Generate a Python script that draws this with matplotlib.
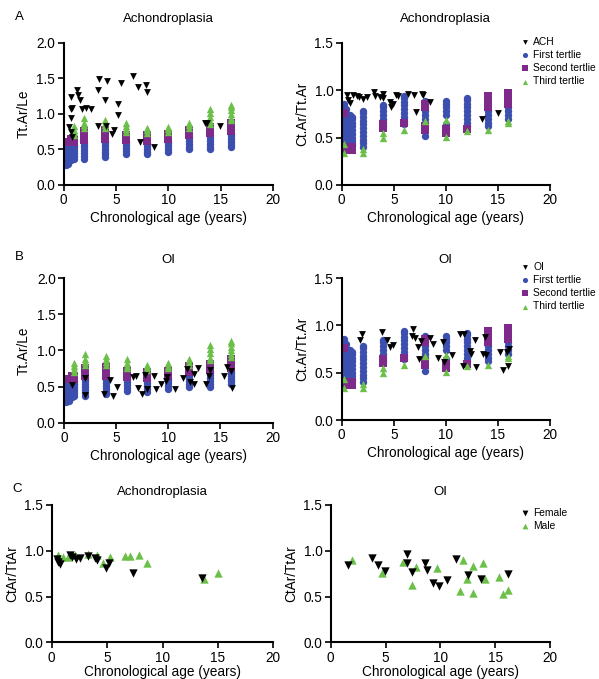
import matplotlib
matplotlib.use("Agg")
from matplotlib import pyplot as plt

plt.rcParams['font.family'] = ['Liberation Sans', 'DejaVu Sans']

# ---- reference tertiles, Tt.Ar/Le (same in A and B, left) ----
tt_ages = [0.2, 0.45, 0.75, 1.0, 2, 4, 6, 8, 10, 12, 14, 16]
tt_first = [
    [0.28, 0.32, 0.36, 0.40, 0.44, 0.48, 0.52, 0.56],
    [0.30, 0.34, 0.38, 0.42, 0.46, 0.50, 0.54, 0.58],
    [0.35, 0.39, 0.43, 0.47, 0.51, 0.55, 0.59],
    [0.37, 0.41, 0.45, 0.49, 0.53, 0.57],
    [0.37, 0.41, 0.45, 0.49, 0.53, 0.57, 0.60],
    [0.39, 0.43, 0.47, 0.51, 0.55, 0.59, 0.62],
    [0.44, 0.48, 0.52, 0.56, 0.60],
    [0.43, 0.47, 0.51, 0.55, 0.59],
    [0.47, 0.51, 0.55, 0.59, 0.62],
    [0.50, 0.54, 0.58, 0.62, 0.66],
    [0.50, 0.54, 0.58, 0.62, 0.66, 0.70],
    [0.53, 0.57, 0.61, 0.65, 0.69, 0.72],
]
tt_second = [
    [0.60], [0.61], [0.62, 0.65], [0.60, 0.64],
    [0.64, 0.68, 0.72, 0.76],
    [0.65, 0.69, 0.73, 0.77],
    [0.63, 0.67, 0.71],
    [0.62, 0.66, 0.70],
    [0.65, 0.69, 0.72],
    [0.70, 0.74, 0.78],
    [0.73, 0.77, 0.81],
    [0.76, 0.80, 0.84, 0.88],
]
tt_third = [
    [], [], [], [0.70, 0.74, 0.78, 0.83],
    [0.80, 0.84, 0.88, 0.95],
    [0.80, 0.84, 0.88, 0.92],
    [0.75, 0.79, 0.83, 0.88],
    [0.73, 0.77, 0.80],
    [0.75, 0.79, 0.82],
    [0.80, 0.84, 0.88],
    [0.86, 0.90, 0.96, 1.02, 1.07],
    [0.91, 0.95, 1.00, 1.05, 1.10, 1.13],
]

# ---- reference tertiles, Ct.Ar/Tt.Ar (same in A and B, right) ----
ct_ages = [0.2, 0.45, 0.75, 1.0, 2, 4, 6, 8, 10, 12, 14, 16]
ct_first = [
    [0.46, 0.50, 0.54, 0.58, 0.62, 0.66, 0.70, 0.74, 0.78, 0.82, 0.86],
    [0.44, 0.48, 0.52, 0.56, 0.60, 0.64, 0.68, 0.72, 0.76, 0.80],
    [0.42, 0.46, 0.50, 0.54, 0.58, 0.62, 0.66, 0.70, 0.74],
    [0.42, 0.46, 0.50, 0.54, 0.58, 0.62, 0.66, 0.70, 0.72],
    [0.40, 0.44, 0.48, 0.52, 0.56, 0.60, 0.64, 0.68, 0.72, 0.76, 0.78],
    [0.62, 0.66, 0.70, 0.74, 0.78, 0.82, 0.85],
    [0.64, 0.68, 0.72, 0.76, 0.80, 0.84, 0.88, 0.92, 0.94],
    [0.52, 0.66, 0.70, 0.74, 0.78, 0.82, 0.86, 0.89],
    [0.60, 0.64, 0.74, 0.78, 0.82, 0.86, 0.89],
    [0.62, 0.66, 0.70, 0.74, 0.78, 0.82, 0.86, 0.90, 0.92],
    [0.62, 0.66, 0.70, 0.74, 0.78],
    [0.70, 0.74, 0.78, 0.82],
]
ct_second = [
    [0.40, 0.76], [0.38], [0.37, 0.40], [0.37, 0.40], [],
    [0.60, 0.64], [0.66], [0.58, 0.62, 0.82, 0.86], [0.55, 0.59], [0.59],
    [0.82, 0.86, 0.90, 0.94], [0.86, 0.90, 0.94, 0.97],
]
ct_third = [
    [0.34, 0.43], [], [], [], [0.34, 0.38],
    [0.50, 0.55], [0.58], [0.68], [0.51, 0.69], [0.57], [0.58], [0.65, 0.68],
]

# ---- ACH patients ----
ach_age_le = [0.67, 0.83, 0.76, 0.76, 0.51, 0.83, 0.67, 1.3, 1.37, 1.62, 1.78, 2.19, 2.63,
              3.3, 3.3, 3.37, 4.16, 3.94, 4.1, 4.63, 4.86, 5.17, 5.2, 5.52, 6.63, 7.08,
              7.87, 7.97, 7.27, 8.6, 13.5, 13.7, 14.95]
ach_le = [1.235, 1.09, 1.07, 0.94, 0.82, 0.68, 0.75, 1.34, 1.27, 1.2, 1.07, 1.09, 1.07,
          0.835, 1.34, 1.49, 1.46, 1.2, 0.83, 0.72, 0.77, 1.14, 0.99, 1.44, 1.54, 1.38,
          1.41, 1.31, 0.61, 0.54, 0.87, 0.88, 0.83]
ach_age_ct = [0.48, 0.64, 0.8, 1.12, 1.44, 1.66, 2.0, 2.4, 3.1, 3.2, 3.7, 3.94, 4.0, 4.6,
              4.7, 4.96, 5.2, 5.44, 6.4, 6.95, 7.15, 7.75, 7.85, 8.5, 13.5, 15.0]
ach_ct = [0.953, 0.9, 0.865, 0.953, 0.94, 0.925, 0.91, 0.93, 0.98, 0.935, 0.925, 0.96,
          0.92, 0.875, 0.82, 0.86, 0.95, 0.94, 0.96, 0.95, 0.77, 0.96, 0.955, 0.88, 0.7, 0.76]

# ---- OI patients ----
oi_age_le = [0.81, 2.0, 2.0, 3.86, 4.4, 4.73, 5.05, 6.65, 6.9, 7.08, 7.46, 7.78, 7.94,
             8.68, 8.84, 9.32, 9.77, 9.87, 10.67, 11.4, 11.8, 12.05, 12.44, 12.5, 12.9,
             13.6, 13.9, 13.98, 15.33, 15.66, 16.05, 16.14]
oi_le = [0.52, 0.38, 0.62, 0.39, 0.59, 0.37, 0.50, 0.63, 0.65, 0.48, 0.40, 0.66, 0.47,
         0.65, 0.47, 0.54, 0.57, 0.63, 0.47, 0.62, 0.74, 0.56, 0.67, 0.54, 0.76,
         0.54, 0.65, 0.73, 0.65, 0.77, 0.72, 0.48]
oi_age_ct = [1.76, 1.92, 3.84, 4.38, 4.64, 4.96, 6.88, 6.72, 7.04, 7.36, 7.46, 7.58, 8.48,
             8.74, 9.28, 9.7, 9.82, 10.56, 11.36, 11.74, 11.68, 12.32, 12.38, 12.86, 12.8,
             13.76, 13.54, 13.82, 15.2, 15.52, 16.0, 16.06, 15.84]
oi_ct = [0.84, 0.91, 0.93, 0.84, 0.77, 0.79, 0.96, 0.885, 0.87, 0.77, 0.64, 0.835, 0.87,
         0.80, 0.66, 0.825, 0.615, 0.685, 0.91, 0.905, 0.57, 0.73, 0.695, 0.555, 0.84,
         0.88, 0.695, 0.685, 0.72, 0.527, 0.57, 0.755, 0.72]

# ---- panel C, by sex ----
ach_f_age = [0.45, 0.6, 0.75, 1.65, 1.8, 2.2, 2.55, 3.25, 3.9, 4.06, 4.9, 5.2, 7.37, 13.53]
ach_f = [0.91, 0.875, 0.855, 0.955, 0.93, 0.905, 0.92, 0.94, 0.925, 0.9, 0.815, 0.865, 0.76, 0.70]
ach_m_age = [0.6, 1.05, 1.5, 2.1, 3.3, 4.12, 4.66, 5.26, 6.6, 7.07, 7.9, 8.57, 13.74, 15.04]
ach_m = [0.955, 0.935, 0.935, 0.955, 0.97, 0.955, 0.865, 0.93, 0.945, 0.94, 0.955, 0.87, 0.69, 0.755]
oi_f_age = [1.61, 3.74, 4.35, 4.95, 6.93, 6.93, 7.39, 8.6, 8.75, 9.36, 9.88, 10.58, 11.43,
            12.55, 13.7, 16.2]
oi_f = [0.845, 0.92, 0.845, 0.78, 0.965, 0.87, 0.77, 0.865, 0.79, 0.65, 0.615, 0.68, 0.91,
        0.735, 0.69, 0.745]
oi_m_age = [1.91, 4.65, 6.63, 7.45, 7.75, 9.73, 12.04, 11.8, 12.4, 12.95, 12.95, 13.92,
            14.07, 15.35, 15.68, 16.2]
oi_m = [0.9, 0.755, 0.875, 0.625, 0.825, 0.815, 0.9, 0.56, 0.69, 0.835, 0.54, 0.87, 0.69,
        0.71, 0.525, 0.57]

BLUE = '#3d4fae'
PURPLE = '#7d2a8a'
GREEN = '#6cc04a'
FS = 9.8
TFS = 9.5

W, H = 599, 679
fig = plt.figure(figsize=(W / 100, H / 100), dpi=100)


def box(x0, x1, ytop, ybot):
    return [x0 / W, 1 - ybot / H, (x1 - x0) / W, (ybot - ytop) / H]


def style(ax, ymax, ylabel, xpad=3):
    for s in ['top', 'right']:
        ax.spines[s].set_visible(False)
    for s in ['left', 'bottom']:
        ax.spines[s].set_linewidth(1.5)
    ax.set_xlim(0, 20)
    ax.set_ylim(0, ymax)
    ax.set_xticks([0, 5, 10, 15, 20])
    ax.set_yticks([i * 0.5 for i in range(int(ymax / 0.5) + 1)])
    ax.yaxis.set_major_formatter(matplotlib.ticker.FormatStrFormatter('%.1f'))
    ax.tick_params(labelsize=FS, width=1.2, length=4, pad=2)
    ax.set_xlabel('Chronological age (years)', fontsize=FS, labelpad=xpad)
    ax.set_ylabel(ylabel, fontsize=FS, labelpad=4)


def tertiles(ax, ages, first, second, third):
    for lst, col, mk, lab in [(first, BLUE, 'o', 'First tertlie'),
                              (second, PURPLE, 's', 'Second tertlie'),
                              (third, GREEN, '^', 'Third tertlie')]:
        xs, ys = [], []
        for a, vals in zip(ages, lst):
            xs += [a] * len(vals)
            ys += vals
        ax.scatter(xs, ys, s=28, marker=mk, color=col, linewidths=0, label=lab, zorder=2)


def legend(ax, ytop):
    ax.legend(loc='upper left', bbox_to_anchor=(522 / W, 1 - ytop / H),
              bbox_transform=fig.transFigure, frameon=False, fontsize=7.4,
              handlelength=0.6, handletextpad=0.5, labelspacing=0.3,
              borderpad=0, borderaxespad=0, markerscale=0.7)


# A left
ax = fig.add_axes(box(63.5, 273, 43, 185))
ax.scatter(ach_age_le, ach_le, s=24, marker='v', color='black', linewidths=0, zorder=3)
tertiles(ax, tt_ages, tt_first, tt_second, tt_third)
style(ax, 2.0, 'Tt.Ar/Le')
ax.set_title('Achondroplasia', fontsize=TFS, pad=15)

# A right
ax = fig.add_axes(box(341.7, 550, 43, 185))
ax.scatter(ach_age_ct, ach_ct, s=24, marker='v', color='black', linewidths=0, zorder=3, label='ACH')
tertiles(ax, ct_ages, ct_first, ct_second, ct_third)
style(ax, 1.5, 'Ct.Ar/Tt.Ar')
ax.set_title('Achondroplasia', fontsize=TFS, pad=15)
legend(ax, 37)

# B left
ax = fig.add_axes(box(64, 272.5, 278, 422.7))
ax.scatter(oi_age_le, oi_le, s=24, marker='v', color='black', linewidths=0, zorder=3)
tertiles(ax, tt_ages, tt_first, tt_second, tt_third)
style(ax, 2.0, 'Tt.Ar/Le')
ax.set_title('OI', fontsize=TFS, pad=11)

# B right
ax = fig.add_axes(box(341.7, 550, 278, 420))
ax.scatter(oi_age_ct, oi_ct, s=24, marker='v', color='black', linewidths=0, zorder=3, label='OI')
tertiles(ax, ct_ages, ct_first, ct_second, ct_third)
style(ax, 1.5, 'Ct.Ar/Tt.Ar')
ax.set_title('OI', fontsize=TFS, pad=11)
legend(ax, 262)

# C left
ax = fig.add_axes(box(51.7, 273.3, 505, 642.3))
ax.scatter(ach_f_age, ach_f, s=36, marker='v', color='black', linewidths=0, zorder=3)
ax.scatter(ach_m_age, ach_m, s=36, marker='^', color=GREEN, linewidths=0, zorder=2)
style(ax, 1.5, 'CtAr/TtAr', xpad=0.5)
ax.set_title('Achondroplasia', fontsize=TFS, pad=7)

# C right
ax = fig.add_axes(box(330.7, 550, 505, 642.3))
ax.scatter(oi_f_age, oi_f, s=36, marker='v', color='black', linewidths=0, zorder=3, label='Female')
ax.scatter(oi_m_age, oi_m, s=36, marker='^', color=GREEN, linewidths=0, zorder=2, label='Male')
style(ax, 1.5, 'CtAr/TtAr', xpad=0.5)
ax.set_title('OI', fontsize=TFS, pad=7)
legend(ax, 508)

fig.text(15 / W, 1 - 17 / H, 'A', fontsize=TFS, va='center')
fig.text(15 / W, 1 - 257 / H, 'B', fontsize=TFS, va='center')
fig.text(12 / W, 1 - 489 / H, 'C', fontsize=TFS, va='center')

plt.savefig('out.png', dpi=100)
